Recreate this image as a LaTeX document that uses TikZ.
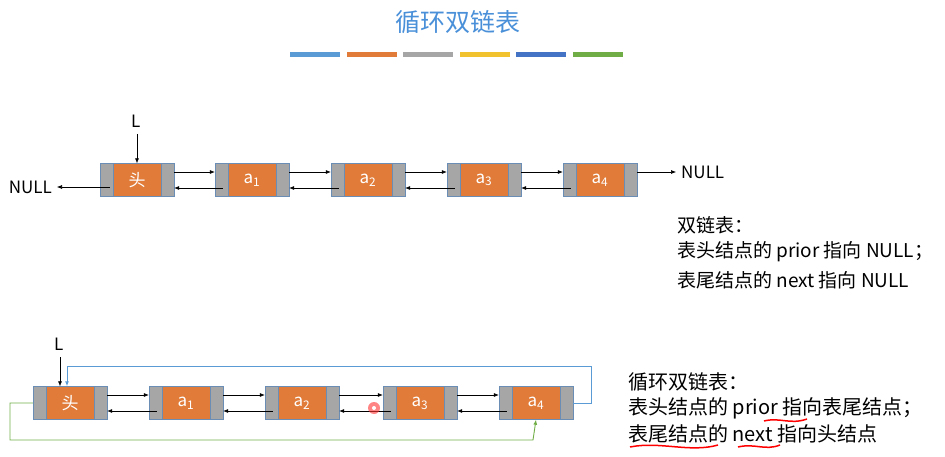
\documentclass[tikz,border=0pt]{standalone}
\usepackage{fontspec}
\setmainfont{Noto Sans CJK SC}
\usetikzlibrary{arrows.meta}
\definecolor{corg}{HTML}{E07B39}
\definecolor{cgr}{HTML}{A6A6A6}
\definecolor{cbd}{HTML}{6A8DB5}
\definecolor{cblue}{HTML}{5B9BD5}
\definecolor{cgreen}{HTML}{70AD47}
\definecolor{ctitle}{HTML}{4A90D9}
\begin{document}
\begin{tikzpicture}[x=1pt,y=-1pt,
 cell/.style={draw=cbd,fill=corg,minimum width=74pt,minimum height=33pt,inner sep=0pt,text=white,font=\fontsize{17}{17}\selectfont,
  path picture={\fill[cgr] (path picture bounding box.south west) rectangle ([xshift=13pt]path picture bounding box.north west);
   \fill[cgr] (path picture bounding box.south east) rectangle ([xshift=-13pt]path picture bounding box.north east);
   \draw[cbd] ([xshift=13pt]path picture bounding box.south west) -- ([xshift=13pt]path picture bounding box.north west);
   \draw[cbd] ([xshift=-13pt]path picture bounding box.south east) -- ([xshift=-13pt]path picture bounding box.north east);}},
 ar/.style={-{Latex[length=5pt,width=4pt]},line width=0.6pt},
 txt/.style={font=\fontsize{19}{19}\selectfont,anchor=west,inner sep=0pt},
 txtb/.style={font=\fontsize{20}{20}\selectfont,anchor=west,inner sep=0pt}]
\useasboundingbox (0,0) rectangle (945,457);
\node[text=ctitle,font=\fontsize{25}{25}\selectfont] (title) at (458,22) {循环双链表};
\foreach \c [count=\i from 0] in {5B9BD5,E07B39,A6A6A6,F2C12E,4472C4,70AD47}{
 \definecolor{tmp}{HTML}{\c}\fill[tmp] (290+\i*56.5,52) rectangle ++(50,5);}
% top list
\node[cell] (h) at (137,180) {头};
\node[cell] (a1) at (252,180) {a\textsubscript{1}};
\node[cell] (a2) at (368,180) {a\textsubscript{2}};
\node[cell] (a3) at (484,180) {a\textsubscript{3}};
\node[cell] (a4) at (600,180) {a\textsubscript{4}};
\node[txt,font=\fontsize{17}{17}\selectfont] (L1) at (131,121) {L};
\draw[ar] (137,134) -- (h.north);
\node[txt,anchor=east,font=\fontsize{17}{17}\selectfont] (n1) at (52,187) {NULL};
\node[txt,font=\fontsize{17}{17}\selectfont] (n2) at (681,172) {NULL};
\draw[ar] ([xshift=10pt,yshift=-7pt]h.west) -- ([xshift=5pt]n1.east);
\draw[ar] ([yshift=8pt]a4.east) -- ([xshift=-5pt]n2.west);
\foreach \p/\q in {h/a1,a1/a2,a2/a3,a3/a4}{
 \draw[ar] ([yshift=8pt]\p.east) -- ([yshift=8pt]\q.west);
 \draw[ar] ([xshift=8pt,yshift=-8pt]\q.west) -- ([yshift=-8pt]\p.east);}
% bottom list
\node[cell] (bh) at (70,403) {头};
\node[cell] (b1) at (186,403) {a\textsubscript{1}};
\node[cell] (b2) at (302,403) {a\textsubscript{2}};
\node[cell] (b3) at (420,403) {a\textsubscript{3}};
\node[cell] (b4) at (536,403) {a\textsubscript{4}};
\node[txt,font=\fontsize{17}{17}\selectfont] (L2) at (54,344) {L};
\draw[ar] (60,357) -- ([xshift=-10pt]bh.north);
\foreach \p/\q in {bh/b1,b1/b2,b2/b3,b3/b4}{
 \draw[ar] ([yshift=8pt]\p.east) -- ([yshift=8pt]\q.west);
 \draw[ar] ([xshift=8pt,yshift=-8pt]\q.west) -- ([yshift=-8pt]\p.east);}
\draw[ar,cblue,line width=0.9pt] (b4.east) -- (591,403) -- (591,366) -- (67,366) -- ([xshift=-3pt]bh.north);
\draw[ar,cgreen,line width=0.9pt] (bh.west) -- (10,403) -- (10,440) -- (533,440) -- (b4.south);
\fill[red!80!white,opacity=0.6] (374,408) circle (6);
\fill[white] (374,408) circle (2);
% right texts
\node[txt] (t1) at (677,225) {双链表：};
\node[txt] (t2) at (677,252) {表头结点的 prior 指向 NULL；};
\node[txt] (t3) at (677,280) {表尾结点的 next 指向 NULL};
\node[txtb] (t4) at (628,382) {循环双链表：};
\node[txtb] (t5) at (628,408) {表头结点的 prior 指向表尾结点；};
\node[txtb] (t6) at (628,434) {表尾结点的 next 指向头结点};
\draw[red,line width=1.5pt] (764,421) .. controls (780,417) and (790,425) .. (807,419);
\draw[red,line width=1.5pt] (630,447) .. controls (660,441) and (690,453) .. (718,445);
\draw[red,line width=1.5pt] (738,447) .. controls (755,443) and (765,451) .. (780,445);
\end{tikzpicture}
\end{document}
